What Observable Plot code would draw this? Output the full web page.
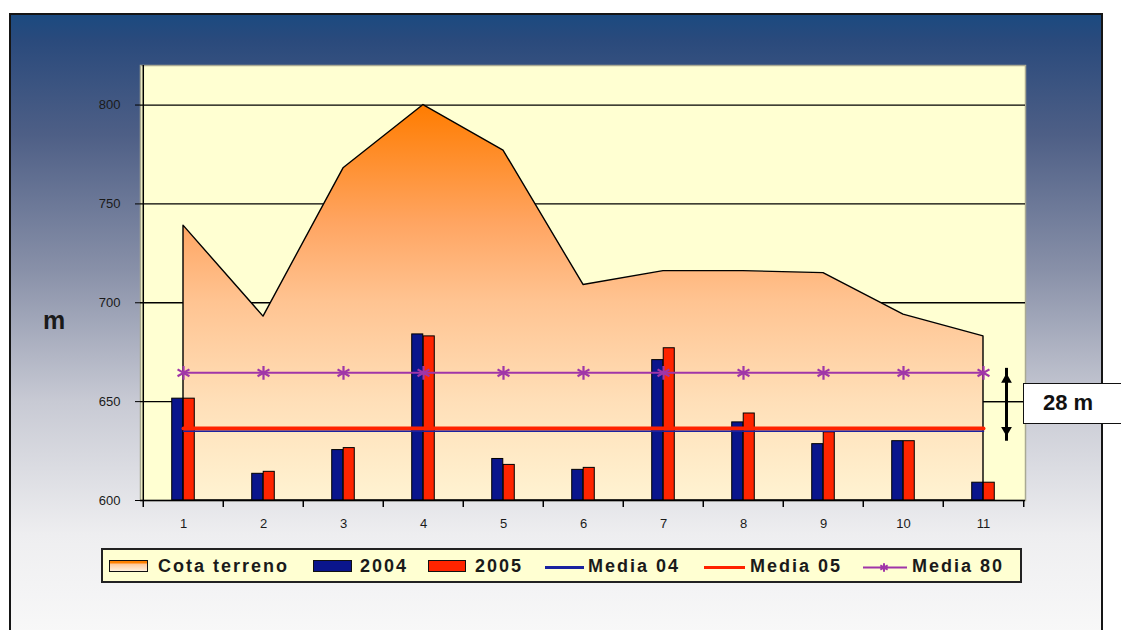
<!DOCTYPE html>
<html><head><meta charset="utf-8">
<script src="https://cdn.jsdelivr.net/npm/d3@7"></script>
<script src="https://cdn.jsdelivr.net/npm/@observablehq/plot@0.6"></script>
<style>
body{margin:0;background:#fff;}
#wrap{position:relative;width:1121px;height:630px;overflow:hidden;background:#fff;font-family:"Liberation Sans",Arial,sans-serif;}
#bg{position:absolute;left:9px;top:13px;width:1090px;height:650px;border:2px solid #151515;border-bottom:none;
 background:linear-gradient(to bottom,#1b4a80 0px,#2a4a7c 25px,#4e5f86 120px,#8890a8 254px,#c8cad4 387px,#eeeef0 520px,#f8f8f8 617px);}
#chart{position:absolute;left:0;top:0;}
#ylab{position:absolute;left:43px;top:306px;font-weight:bold;font-size:25px;color:#1a1a1a;}
#note{position:absolute;left:1023px;top:383px;width:130px;height:41px;box-sizing:border-box;border:1.5px solid #111;background:#fff;
 font-weight:bold;font-size:22px;line-height:38px;padding-left:19px;color:#111;}
#legend{position:absolute;left:101px;top:548px;width:921px;height:35px;box-sizing:border-box;border:2px solid #222;background:#ffffd2;}
.li{position:absolute;top:6px;font-weight:bold;font-size:18px;letter-spacing:2px;color:#1a1a1a;line-height:20px;white-space:nowrap;}
.sw{position:absolute;top:10px;height:12px;box-sizing:border-box;border:1.5px solid #111;}
.ln{position:absolute;top:16px;height:3px;}
</style></head><body>
<div id="wrap">
 <div id="bg"></div>
 <div id="chart"></div>
 <div id="ylab">m</div>
 <div id="legend"></div>
 <div id="note"></div>
</div>
<script>
// ---- data ----
const categories = ["1","2","3","4","5","6","7","8","9","10","11"];
const cotaTerreno = [739, 693, 768, 800, 777, 709, 716, 716, 715, 694, 683];
const values2004 = [651.5, 613.5, 625.5, 684, 621, 615.5, 671, 639.5, 628.5, 630, 609];
const values2005 = [651.5, 614.5, 626.5, 683, 618, 616.5, 677, 644, 634.5, 630, 609];
const media04 = 635.0;
const media05 = 636.4;
const media80 = 664.6;
const yTicks = [600, 650, 700, 750, 800];
const gridValues = [650, 700, 750, 800];
const yDomain = [600, 820];
const arrowEnds = [664.3, 632.5];
const connectorValue = 650;
const noteText = "28 m";
const yLabel = "m";
const legendLabels = ["Cota terreno", "2004", "2005", "Media 04", "Media 05", "Media 80"];

const C04 = "#0a158c", C05 = "#ff2400", CM04 = "#1a22a0", CM05 = "#ff2200", CM80 = "#a035a8";

const rows = categories.map((c, i) => ({cat: c, cota: cotaTerreno[i], v04: values2004[i], v05: values2005[i]}));
const half = (1121 - 140 - 96) / categories.length / 2;

const plot = Plot.plot({
  width: 1121, height: 630,
  marginLeft: 140, marginRight: 96, marginTop: 65, marginBottom: 130,
  x: {type: "band", domain: categories, padding: 0, axis: null},
  y: {domain: yDomain, axis: null},
  style: {background: "transparent", fontFamily: "Liberation Sans, Arial, sans-serif", color: "#1a1a1a", overflow: "visible"},
  marks: [
    Plot.frame({fill: "#ffffd2", stroke: "#a9a993", strokeWidth: 1.5}),
    Plot.ruleY(gridValues, {stroke: "#000", strokeWidth: 1.3}),
    Plot.areaY(rows, {x: "cat", y1: yDomain[0], y2: "cota", fill: "url(#cotaGrad)", stroke: "#000", strokeWidth: 1.4}),
    Plot.barY(rows, {x: "cat", y1: yDomain[0], y2: "v04", fill: C04, stroke: "#000", strokeWidth: 1, insetLeft: half - 11.5, insetRight: half}),
    Plot.barY(rows, {x: "cat", y1: yDomain[0], y2: "v05", fill: C05, stroke: "#000", strokeWidth: 1, insetLeft: half, insetRight: half - 11.5}),
    Plot.lineY(categories, {x: d => d, y: () => media05, stroke: CM05, strokeWidth: 4}),
    Plot.lineY(categories, {x: d => d, y: () => media04, stroke: CM04, strokeWidth: 1.6}),
    Plot.lineY(categories, {x: d => d, y: () => media80, stroke: CM80, strokeWidth: 2}),
    Plot.dot(categories, {x: d => d, y: () => media80, symbol: "asterisk", r: 6.5, stroke: CM80, strokeWidth: 2.2}),
    // annotation arrow + connector
    Plot.ruleX([categories[10]], {x: d => d, y1: arrowEnds[1], y2: arrowEnds[0], dx: 23, stroke: "#000", strokeWidth: 3, insetTop: 5, insetBottom: 5}),
    Plot.dot([categories[10]], {x: d => d, y: () => arrowEnds[0], dx: 23, dy: 6.2, symbol: "triangle", r: 4, fill: "#000"}),
    Plot.dot([categories[10]], {x: d => d, y: () => arrowEnds[1], dx: 23, dy: -6.2, symbol: "triangle", r: 4, fill: "#000", rotate: 180}),
    Plot.tickY([connectorValue], {x: () => categories[10], y: d => d, insetLeft: half, stroke: "#000", strokeWidth: 1.3}),
    // axes
    Plot.ruleY([yDomain[0]], {stroke: "#000", strokeWidth: 1.5}),
    Plot.ruleX([categories[0]], {x: d => d, dx: -half, stroke: "#000", strokeWidth: 1.5}),
    Plot.ruleX(categories, {x: d => d, dx: -half, y1: yDomain[0], y2: yDomain[0], insetBottom: -7, stroke: "#000", strokeWidth: 1.5}),
    Plot.ruleX([categories[10]], {x: d => d, dx: half, y1: yDomain[0], y2: yDomain[0], insetBottom: -7, stroke: "#000", strokeWidth: 1.5}),
    Plot.axisY(yTicks, {tickSize: 5, tickPadding: 15, fontSize: 13, label: null, stroke: "#000"}),
    Plot.axisX({tickSize: 0, tickPadding: 18, fontSize: 13, label: null})
  ]
});

const svg = d3.select(plot);
const grad = svg.insert("defs", ":first-child").append("linearGradient")
  .attr("id", "cotaGrad").attr("x1", 0).attr("y1", 0).attr("x2", 0).attr("y2", 1);
[[0, "#ff7c00"], [0.3, "#ffa562"], [0.5, "#ffc492"], [0.75, "#ffdfb8"], [1, "#fff3d2"]]
  .forEach(([o, c]) => grad.append("stop").attr("offset", o).attr("stop-color", c));
document.getElementById("chart").appendChild(plot);

document.getElementById("ylab").textContent = yLabel;
document.getElementById("note").textContent = noteText;

// legend
const lg = d3.select("#legend");
const L = (x) => x - 103;
lg.append("div").attr("class", "sw").style("left", L(109) + "px").style("width", "39px")
  .style("background", "linear-gradient(to bottom,#ff8000 0,#ff8000 2px,#ffc89a 3px,#fff0dc 100%)");
lg.append("div").attr("class", "li").style("left", L(158) + "px").text(legendLabels[0]);
lg.append("div").attr("class", "sw").style("left", L(313) + "px").style("width", "39px").style("background", C04);
lg.append("div").attr("class", "li").style("left", L(360) + "px").text(legendLabels[1]);
lg.append("div").attr("class", "sw").style("left", L(428) + "px").style("width", "38px").style("background", C05);
lg.append("div").attr("class", "li").style("left", L(475) + "px").text(legendLabels[2]);
lg.append("div").attr("class", "ln").style("left", L(545) + "px").style("width", "39px").style("background", CM04);
lg.append("div").attr("class", "li").style("left", L(588) + "px").text(legendLabels[3]);
lg.append("div").attr("class", "ln").style("left", L(704) + "px").style("width", "41px").style("background", CM05);
lg.append("div").attr("class", "li").style("left", L(750) + "px").text(legendLabels[4]);
const s80 = lg.append("svg").style("position", "absolute").style("left", L(863) + "px").style("top", "8px")
  .attr("width", 44).attr("height", 18);
s80.append("line").attr("x1", 0).attr("x2", 44).attr("y1", 9.5).attr("y2", 9.5).attr("stroke", CM80).attr("stroke-width", 2);
s80.append("path").attr("transform", "translate(21,9.5)").attr("d", d3.symbol(d3.symbolAsterisk || d3.symbolCross, 50)())
  .attr("stroke", CM80).attr("stroke-width", 2).attr("fill", CM80);
lg.append("div").attr("class", "li").style("left", L(912) + "px").text(legendLabels[5]);
</script>
</body></html>
